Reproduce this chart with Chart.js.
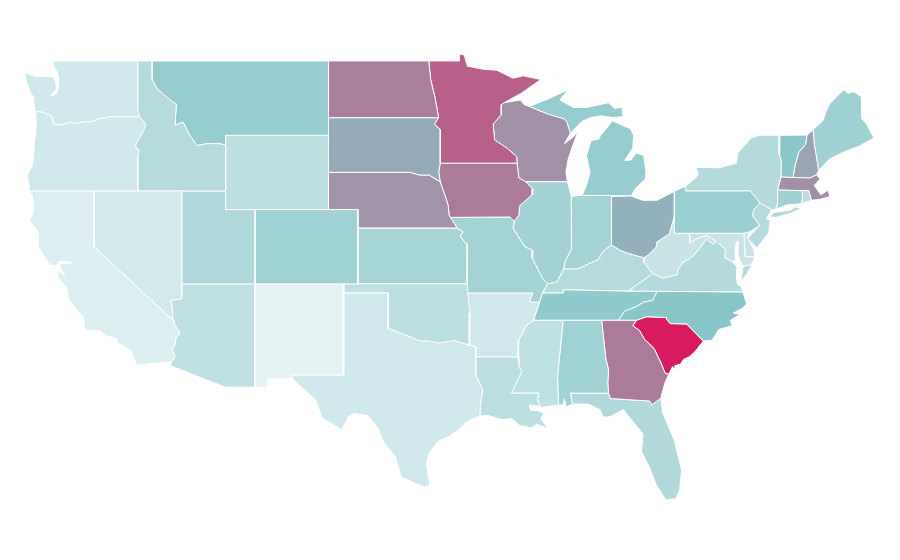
<!DOCTYPE html>
<html>
<head>
<meta charset="utf-8">
<title>US states choropleth</title>
<script src="https://cdn.jsdelivr.net/npm/chart.js@4/dist/chart.umd.min.js"></script>
<style>
  html, body { margin: 0; padding: 0; background: #fff; }
  #wrap { width: 900px; height: 560px; }
</style>
</head>
<body>
<div id="wrap"><canvas id="map" width="900" height="560"></canvas></div>
<script>
// State outlines in [longitude, latitude]
const WA = [[-124.72,48.38],[-123.95,48.16],[-123.1,48.17],[-122.75,48.14],[-122.6,47.85],[-122.55,47.5],[-122.95,47.1],[-122.55,47.25],[-122.42,47.6],[-122.38,48],[-122.5,48.4],[-122.75,48.75],[-122.77,49],[-117.03,49],[-117.04,46.42],[-116.92,46],[-118.98,46],[-119.3,45.93],[-119.6,45.92],[-120.2,45.73],[-120.65,45.73],[-121.2,45.65],[-121.7,45.7],[-122.25,45.55],[-122.75,45.65],[-122.9,46.05],[-123.2,46.15],[-123.55,46.26],[-124,46.27],[-124.1,46.7],[-124.1,47],[-124.35,47.35],[-124.65,47.95]];
const OR = [[-124,46.27],[-123.55,46.26],[-123.2,46.15],[-122.9,46.05],[-122.75,45.65],[-122.25,45.55],[-121.7,45.7],[-121.2,45.65],[-120.65,45.73],[-120.2,45.73],[-119.6,45.92],[-119.3,45.93],[-118.98,46],[-116.92,46],[-116.7,45.8],[-116.46,45.6],[-116.6,45.3],[-116.85,44.95],[-117.2,44.45],[-117.05,44.23],[-116.95,44.2],[-117.03,43.83],[-117.03,42],[-124.4,42],[-124.42,42.3],[-124.55,42.84],[-124.2,43.4],[-124.1,44],[-124.05,44.7],[-123.95,45.3],[-123.95,46]];
const CA = [[-124.4,42],[-120,42],[-120,39],[-114.63,35],[-114.57,34.85],[-114.15,34.27],[-114.43,34.05],[-114.53,33.55],[-114.72,33.4],[-114.5,33],[-114.72,32.72],[-117.12,32.53],[-117.25,32.85],[-117.5,33.35],[-118.4,33.75],[-118.5,34.03],[-119.2,34.15],[-119.6,34.42],[-120.47,34.45],[-120.65,34.6],[-120.75,35.2],[-121.3,35.7],[-121.75,36.2],[-121.85,36.75],[-122.4,37.3],[-122.45,37.75],[-122.05,37.45],[-122,37.5],[-122.35,37.9],[-122.3,38.1],[-121.55,38.1],[-121.6,38.2],[-122.4,38.2],[-122.5,38],[-123,38],[-123.75,38.95],[-123.8,39.8],[-124.38,40.35],[-124.1,41],[-124.2,41.75]];
const NV = [[-120,42],[-114.04,42],[-114.04,36.2],[-114.75,36.1],[-114.63,35],[-120,39]];
const ID = [[-117.03,49],[-116.05,49],[-116.05,48],[-115.7,47.5],[-115,47],[-114.4,46.65],[-114.5,45.55],[-113.95,45.7],[-113.45,44.95],[-113,44.45],[-112.3,44.55],[-111.5,44.55],[-111.05,44.48],[-111.05,42],[-117.03,42],[-117.03,43.83],[-116.95,44.2],[-117.05,44.23],[-117.2,44.45],[-116.85,44.95],[-116.6,45.3],[-116.46,45.6],[-116.7,45.8],[-116.92,46],[-117.04,46.42]];
const MT = [[-116.05,49],[-104.05,49],[-104.05,45],[-111.05,45],[-111.05,44.48],[-111.5,44.55],[-112.3,44.55],[-113,44.45],[-113.45,44.95],[-113.95,45.7],[-114.5,45.55],[-114.4,46.65],[-115,47],[-115.7,47.5],[-116.05,48]];
const WY = [[-111.05,45],[-104.05,45],[-104.05,41],[-111.05,41]];
const UT = [[-114.05,42],[-111.05,42],[-111.05,41],[-109.05,41],[-109.05,37],[-114.05,37]];
const CO = [[-109.05,41],[-102.05,41],[-102.05,37],[-109.05,37]];
const AZ = [[-114.05,37],[-109.05,37],[-109.05,31.33],[-111.07,31.33],[-114.8,32.5],[-114.72,32.72],[-114.5,33],[-114.72,33.4],[-114.53,33.55],[-114.43,34.05],[-114.15,34.27],[-114.57,34.85],[-114.63,35],[-114.75,36.1],[-114.04,36.2]];
const NM = [[-109.05,37],[-103,37],[-103.05,32],[-106.6,32],[-106.5,31.78],[-108.2,31.78],[-108.2,31.33],[-109.05,31.33]];
const TX = [[-103,36.5],[-100,36.5],[-100,34.56],[-99.2,34.3],[-98.5,34.1],[-97.9,33.87],[-97.2,33.85],[-96.5,33.75],[-95.5,33.88],[-94.48,33.64],[-94.04,33.55],[-94.04,31.99],[-93.55,31.2],[-93.7,30.5],[-93.75,29.75],[-94.7,29.4],[-95,29.1],[-95.9,28.6],[-96.6,28.35],[-97.2,27.7],[-97.4,27.1],[-97.15,25.96],[-97.5,25.85],[-98.2,26.05],[-99.1,26.4],[-99.5,27.5],[-100.3,28.3],[-100.7,29.1],[-101.4,29.77],[-102.35,29.88],[-102.7,29.7],[-103.15,28.98],[-104.5,29.65],[-104.9,30.6],[-106.5,31.78],[-106.6,32],[-103.05,32]];
const OK_ = [[-103,37],[-94.62,37],[-94.43,35.39],[-94.48,33.64],[-95.5,33.88],[-96.5,33.75],[-97.2,33.85],[-97.9,33.87],[-98.5,34.1],[-99.2,34.3],[-100,34.56],[-100,36.5],[-103,36.5]];
const KS = [[-102.05,40],[-95.3,40],[-94.9,39.8],[-95.1,39.55],[-94.61,39.1],[-94.62,37],[-102.05,37]];
const NE = [[-104.05,43],[-98.5,43],[-97.85,42.85],[-97.2,42.85],[-96.45,42.49],[-96.1,41.7],[-95.9,41.2],[-95.85,40.7],[-95.3,40],[-102.05,40],[-102.05,41],[-104.05,41]];
const SD = [[-104.05,45.94],[-96.56,45.94],[-96.85,45.6],[-96.45,45.3],[-96.45,43.5],[-96.55,43],[-96.45,42.49],[-97.2,42.85],[-97.85,42.85],[-98.5,43],[-104.05,43]];
const ND = [[-104.05,49],[-97.23,49],[-97.1,48],[-96.8,47],[-96.56,45.94],[-104.05,45.94]];
const MN = [[-97.23,49],[-95.15,49],[-95.15,49.38],[-94.82,49.32],[-94.6,48.72],[-93.5,48.55],[-92.6,48.5],[-91.5,48.07],[-90.8,48.2],[-89.6,48],[-90.9,47.28],[-92.1,46.75],[-92.3,46.65],[-92.3,46.1],[-92.85,45.6],[-92.75,44.75],[-91.9,44.3],[-91.25,43.85],[-91.22,43.5],[-96.45,43.5],[-96.45,45.3],[-96.85,45.6],[-96.56,45.94],[-96.8,47],[-97.1,48]];
const IA = [[-96.45,43.5],[-91.22,43.5],[-91.1,42.7],[-90.64,42.5],[-90.15,42.1],[-90.2,41.8],[-91.05,41.2],[-91.1,40.7],[-91.42,40.38],[-91.7,40.6],[-95.77,40.58],[-95.85,40.7],[-95.9,41.2],[-96.1,41.7],[-96.45,42.49],[-96.55,43]];
const MO = [[-95.77,40.58],[-91.7,40.6],[-91.42,40.38],[-91.5,40],[-90.7,39],[-90.15,38.8],[-90.2,38.4],[-89.5,37.3],[-89.15,37],[-89.5,36.5],[-89.7,36],[-90.37,36],[-90.15,36.5],[-94.62,36.5],[-94.62,37],[-94.61,39.1],[-95.1,39.55],[-94.9,39.8],[-95.3,40]];
const AR = [[-94.62,36.5],[-90.15,36.5],[-90.37,36],[-89.7,36],[-90.1,35],[-90.6,34.7],[-91.1,33.9],[-91.15,33],[-94.04,33],[-94.04,33.55],[-94.48,33.64],[-94.43,35.39]];
const LA = [[-94.04,33],[-91.15,33],[-91.1,32.5],[-90.9,32.2],[-91.6,31],[-89.73,31],[-89.85,30.65],[-89.6,30.2],[-89.75,30.28],[-90.4,30.35],[-90.3,30.05],[-89.8,30.05],[-89.4,29.9],[-89.6,29.6],[-89.1,29.05],[-89.9,29.3],[-90.2,29.1],[-91,29.2],[-91.6,29.6],[-92.3,29.55],[-93.2,29.78],[-93.75,29.75],[-93.7,30.5],[-93.55,31.2],[-94.04,31.99]];
const MS = [[-90.1,35],[-88.2,35],[-88.1,34.9],[-88.47,31.9],[-88.4,30.35],[-89.6,30.2],[-89.85,30.65],[-89.73,31],[-91.6,31],[-90.9,32.2],[-91.1,32.5],[-91.15,33],[-91.1,33.9],[-90.6,34.7]];
const AL = [[-88.2,35],[-85.47,35],[-85.18,32.87],[-85,32.3],[-85.05,31.55],[-85,31],[-87.6,31],[-87.45,30.4],[-87.9,30.25],[-88,30.7],[-88.1,30.35],[-88.4,30.35],[-88.47,31.9],[-88.1,34.9]];
const GA = [[-85.47,35],[-83.1,35],[-83.35,34.7],[-82.9,34.45],[-82.55,33.95],[-81.9,33.45],[-81.4,32.6],[-81.15,32.1],[-80.9,32.03],[-81.15,31.6],[-81.45,30.72],[-82.05,30.36],[-82.2,30.57],[-84.87,30.7],[-85,31],[-85.05,31.55],[-85,32.3],[-85.18,32.87]];
const FL = [[-87.6,31],[-85,31],[-84.87,30.7],[-82.2,30.57],[-82.05,30.36],[-81.45,30.72],[-81.3,29.9],[-80.55,28.45],[-80.03,26.8],[-80.15,25.75],[-80.4,25.2],[-81.1,25.15],[-81.75,25.95],[-82.2,26.9],[-82.75,27.8],[-82.65,28.75],[-83.3,29.4],[-84,30.1],[-84.9,29.7],[-85.35,29.68],[-85.6,30.1],[-86.4,30.4],[-87.45,30.4]];
const SC = [[-83.1,35],[-82.4,35.2],[-81.05,35.15],[-81.05,35.05],[-80.8,34.82],[-79.68,34.8],[-78.55,33.86],[-79.1,33.3],[-79.3,33.15],[-79.5,33],[-79.9,32.85],[-80.1,32.6],[-80.5,32.5],[-80.45,32.3],[-80.65,32.45],[-80.9,32.03],[-81.15,32.1],[-81.4,32.6],[-81.9,33.45],[-82.55,33.95],[-82.9,34.45],[-83.35,34.7]];
const NC = [[-84.32,35],[-83.1,35],[-82.4,35.2],[-81.05,35.15],[-81.05,35.05],[-80.8,34.82],[-79.68,34.8],[-78.55,33.86],[-77.95,33.9],[-77.5,34.5],[-76.6,34.7],[-76.7,35],[-76.1,35.3],[-75.5,35.25],[-76.5,35.4],[-75.9,35.65],[-75.6,35.9],[-75.87,36.55],[-81.68,36.59],[-82,36.1],[-82.6,36],[-83.1,35.75],[-83.9,35.5]];
const TN = [[-89.5,36.5],[-88.07,36.5],[-88.07,36.68],[-83.68,36.6],[-81.68,36.59],[-82,36.1],[-82.6,36],[-83.1,35.75],[-83.9,35.5],[-84.32,35],[-90.1,35],[-89.7,36]];
const KY = [[-89.5,36.5],[-89.15,37],[-88.5,37.1],[-88.05,37.8],[-87.1,37.8],[-86.3,38.1],[-85.7,38.3],[-85.4,38.73],[-84.8,39.1],[-84.2,38.8],[-83.7,38.65],[-82.6,38.4],[-82.6,38.17],[-82,37.55],[-83.68,36.6],[-88.07,36.68],[-88.07,36.5]];
const VA = [[-83.68,36.6],[-82,37.55],[-81.3,37.3],[-80.3,37.5],[-80.3,37.7],[-79.95,38.15],[-79.3,38.45],[-78.85,38.85],[-78.35,39.4],[-77.83,39.13],[-77.72,39.32],[-77.05,38.85],[-77.1,38.4],[-76.6,38.2],[-76.25,37.9],[-76.3,37.5],[-76.25,37],[-75.97,36.85],[-75.87,36.55],[-81.68,36.59]];
const VA_SHORE = [[-76,37.15],[-75.85,37.95],[-75.25,38.03],[-75.6,37.5]];
const WV = [[-82.6,38.4],[-82.2,38.6],[-81.75,39],[-81.7,39.25],[-80.85,39.7],[-80.52,40.64],[-80.52,39.72],[-79.48,39.72],[-79.48,39.2],[-78.95,39.45],[-78.35,39.6],[-77.72,39.32],[-77.83,39.13],[-78.35,39.4],[-78.85,38.85],[-79.3,38.45],[-79.95,38.15],[-80.3,37.7],[-80.3,37.5],[-81.3,37.3],[-82,37.55],[-82.6,38.17]];
const MD = [[-79.48,39.72],[-75.79,39.72],[-75.7,38.46],[-75.05,38.45],[-75.25,38.03],[-75.85,37.95],[-76.05,38.25],[-76.2,38.6],[-76.15,39.3],[-76.25,39.3],[-76.4,38.9],[-76.35,38.25],[-76.6,38.2],[-77.1,38.4],[-77.05,38.85],[-77.72,39.32],[-78.35,39.6],[-78.95,39.45],[-79.48,39.2]];
const DE = [[-75.79,39.72],[-75.4,39.8],[-75.55,39.5],[-75.1,38.8],[-75.05,38.45],[-75.7,38.46]];
const PA = [[-80.52,41.98],[-79.76,42.27],[-79.76,42],[-75.35,42],[-74.7,41.36],[-75.13,40.98],[-75.2,40.65],[-74.72,40.15],[-75.4,39.8],[-75.79,39.72],[-80.52,39.72]];
const OH = [[-84.8,41.7],[-83.45,41.73],[-82.7,41.5],[-81.7,41.5],[-80.52,41.98],[-80.52,40.64],[-80.85,39.7],[-81.7,39.25],[-81.75,39],[-82.2,38.6],[-82.6,38.4],[-83.7,38.65],[-84.2,38.8],[-84.8,39.1]];
const IN = [[-87.53,41.72],[-86.8,41.76],[-84.8,41.76],[-84.8,39.1],[-85.4,38.73],[-85.7,38.3],[-86.3,38.1],[-87.1,37.8],[-88.05,37.8],[-87.95,38.2],[-87.5,38.9],[-87.53,39.35]];
const IL = [[-90.64,42.5],[-87.8,42.5],[-87.53,41.72],[-87.53,39.35],[-87.5,38.9],[-87.95,38.2],[-88.05,37.8],[-88.5,37.1],[-89.15,37],[-89.5,37.3],[-90.2,38.4],[-90.15,38.8],[-90.7,39],[-91.5,40],[-91.42,40.38],[-91.1,40.7],[-91.05,41.2],[-90.2,41.8],[-90.15,42.1]];
const WI = [[-92.3,46.65],[-92.1,46.75],[-91,46.9],[-90.75,46.65],[-90.4,46.55],[-89.1,46.13],[-88.1,45.9],[-87.85,45.75],[-87.6,45.1],[-88,44.55],[-87.4,44.9],[-87.05,45.25],[-87.5,44.3],[-87.75,43.7],[-87.9,43],[-87.8,42.5],[-90.64,42.5],[-91.1,42.7],[-91.22,43.5],[-91.25,43.85],[-91.9,44.3],[-92.75,44.75],[-92.85,45.6],[-92.3,46.1]];
const MI_UPPER = [[-90.4,46.55],[-89.1,46.95],[-88.45,47.2],[-87.75,47.45],[-88.3,46.9],[-87.4,46.5],[-86.5,46.5],[-85,46.75],[-84.6,46.45],[-84.1,46.5],[-84,46],[-84.7,45.95],[-85.5,46.05],[-86.2,45.95],[-86.8,45.75],[-87.6,45.1],[-87.85,45.75],[-88.1,45.9],[-89.1,46.13]];
const MI_LOWER = [[-86.8,41.76],[-84.8,41.76],[-83.45,41.73],[-83.2,42.1],[-82.5,42.65],[-82.45,43],[-82.6,43.9],[-83.1,44.05],[-83.5,43.65],[-83.9,43.65],[-83.35,44.3],[-83.3,45],[-83.5,45.35],[-84.75,45.78],[-85.1,45.4],[-85.55,45],[-85.65,44.8],[-86.2,44.7],[-86.5,43.9],[-86.25,43],[-86.5,42.3]];
const MI_ISLE = [[-89.2,47.85],[-88.5,48.15],[-88.8,48.05]];
const NY = [[-79.76,42.27],[-79.05,42.7],[-78.9,42.9],[-79.05,43.27],[-77.5,43.25],[-76.3,43.5],[-76.2,44.05],[-75.3,44.85],[-74.7,45],[-73.35,45],[-73.4,44],[-73.25,43.6],[-73.27,42.75],[-73.5,42.05],[-73.5,41.3],[-73.65,41],[-73.9,41],[-74.7,41.36],[-75.35,42],[-79.76,42]];
const NY_LONG_ISLAND = [[-74.03,40.6],[-73.75,40.85],[-72.6,40.98],[-72.3,41.15],[-71.87,41.07],[-72.6,40.8],[-73.6,40.58]];
const NJ = [[-74.7,41.36],[-73.9,41],[-74.25,40.5],[-74,40.45],[-74.1,39.75],[-74.9,38.95],[-75.55,39.45],[-74.72,40.15],[-75.2,40.65],[-75.13,40.98]];
const CT = [[-73.5,42.05],[-71.8,42.02],[-71.85,41.32],[-72.9,41.25],[-73.65,41],[-73.5,41.3]];
const RI = [[-71.8,42.02],[-71.38,42.02],[-71.2,41.5],[-71.85,41.32]];
const MA = [[-73.5,42.05],[-73.27,42.75],[-71.3,42.7],[-70.85,42.87],[-70.6,42.65],[-71,42.3],[-70.55,41.8],[-70.05,42.05],[-69.95,41.7],[-70.6,41.55],[-71.2,41.5],[-71.38,42.02],[-71.8,42.02]];
const VT = [[-73.35,45],[-71.5,45.01],[-71.6,44.5],[-72.05,44.1],[-72.3,43.4],[-72.45,42.73],[-73.27,42.75],[-73.25,43.6],[-73.4,44]];
const NH = [[-71.5,45.01],[-71.08,45.3],[-71,44.5],[-70.7,43.1],[-70.85,42.87],[-71.3,42.7],[-72.45,42.73],[-72.3,43.4],[-72.05,44.1],[-71.6,44.5]];
const ME = [[-71.08,45.3],[-70.4,45.8],[-70.25,46.2],[-69.95,46.7],[-69,47.45],[-68.7,47.25],[-68.3,47.35],[-67.8,47.07],[-67.78,45.9],[-67.45,45.6],[-66.95,44.85],[-68,44.4],[-69,44.1],[-70,43.7],[-70.7,43.1],[-71,44.5]];

const stateNames = ["Washington","Oregon","California","Nevada","Idaho","Montana","Wyoming","Utah","Colorado","Arizona","New Mexico","Texas","Oklahoma","Kansas","Nebraska","South Dakota","North Dakota","Minnesota","Iowa","Missouri","Arkansas","Louisiana","Mississippi","Alabama","Georgia","Florida","North Carolina","Tennessee","Kentucky","Virginia","West Virginia","Maryland","Delaware","Pennsylvania","Ohio","Indiana","Illinois","Wisconsin","Michigan","New York","New Jersey","Connecticut","Rhode Island","Massachusetts","Vermont","New Hampshire","Maine","South Carolina"];
const stateValues = [13,13,6,12,27,44,23,30,38,21,2,13,23,35,65,58,71,80,72,36,13,23,21,38,72,29,50,46,27,28,17,17,17,42,56,36,37,66,44,28,27,39,25,66,49,60,39,100];
const stateRings = [[WA],[OR],[CA],[NV],[ID],[MT],[WY],[UT],[CO],[AZ],[NM],[TX],[OK_],[KS],[NE],[SD],[ND],[MN],[IA],[MO],[AR],[LA],[MS],[AL],[GA],[FL],[NC],[TN],[KY],[VA,VA_SHORE],[WV],[MD],[DE],[PA],[OH],[IN],[IL],[WI],[MI_UPPER,MI_LOWER,MI_ISLE],[NY,NY_LONG_ISLAND],[NJ],[CT],[RI],[MA],[VT],[NH],[ME],[SC]];

const colorStops = [[0,[232,244,246]],[50,[137,198,202]],[100,[216,27,96]]];

function valueColor(v) {
  const hi = v <= colorStops[1][0] ? 1 : 2;
  const [v0, c0] = colorStops[hi - 1];
  const [v1, c1] = colorStops[hi];
  const t = (v - v0) / (v1 - v0);
  const c = c0.map((ch, i) => Math.round(ch + (c1[i] - ch) * t));
  return `rgb(${c[0]},${c[1]},${c[2]})`;
}

// the map squeezes latitudes a little south of 37
const mapLat = lat => lat < 37 ? 37 - (37 - lat) * 0.98 : lat;

const datasets = [];
stateNames.forEach((name, i) => {
  stateRings[i].forEach(ring => {
    const pts = ring.concat([ring[0]]).map(p => ({ x: p[0], y: mapLat(p[1]) }));
    datasets.push({
      label: name,
      data: pts,
      showLine: true,
      fill: "shape",
      backgroundColor: valueColor(stateValues[i]),
      borderColor: "#ffffff",
      borderWidth: 1,
      pointRadius: 0,
      pointHoverRadius: 0,
      tension: 0,
      clip: false
    });
  });
});

new Chart(document.getElementById("map"), {
  type: "scatter",
  data: { datasets },
  options: {
    responsive: false,
    animation: false,
    layout: { padding: 0 },
    plugins: { legend: { display: false }, title: { display: false } },
    scales: {
      x: { type: "linear", display: false, min: -126.4, max: -65.17 },
      y: { type: "linear", display: false, min: 22.14, max: 52.28 }
    }
  }
});
</script>
</body>
</html>
